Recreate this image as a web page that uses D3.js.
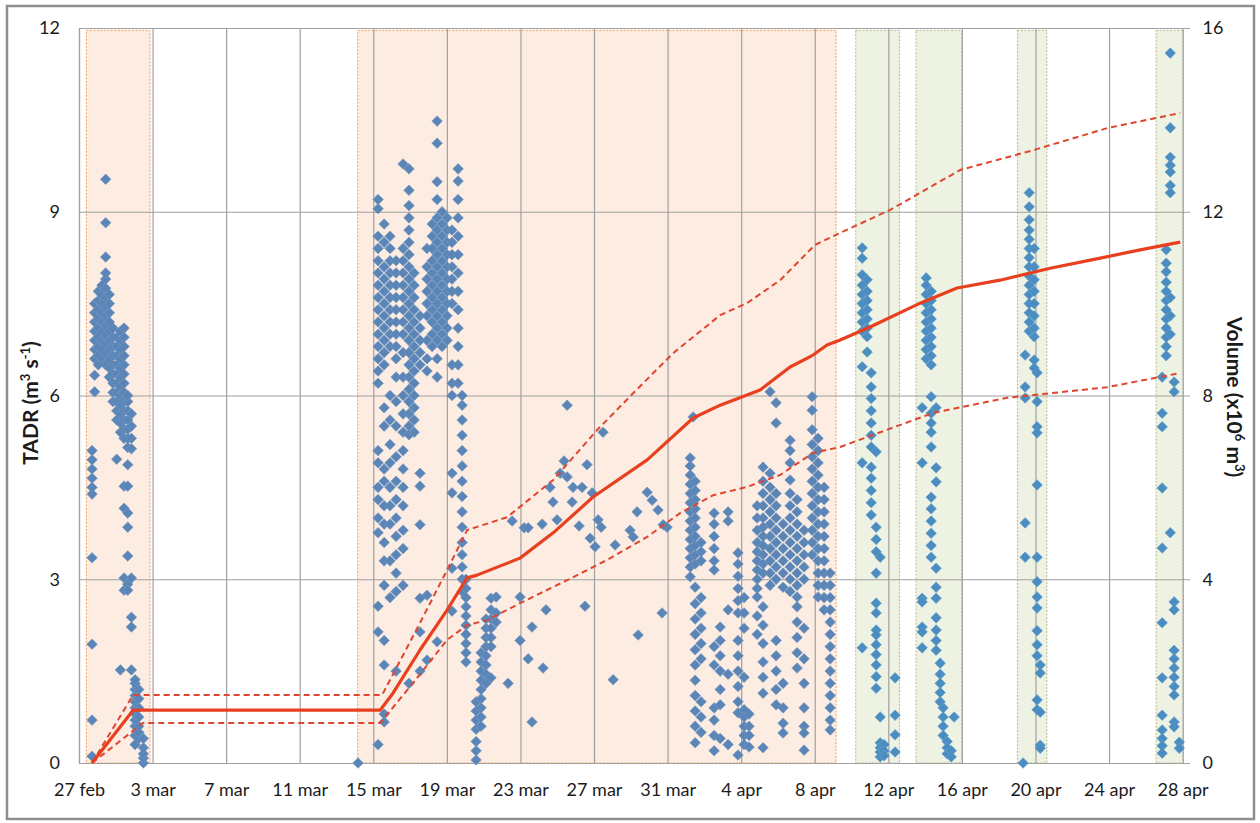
<!DOCTYPE html>
<html>
<head>
<meta charset="utf-8">
<script src="https://cdn.jsdelivr.net/npm/d3@7"></script>
<style>
  body { margin: 0; background: #fff; }
</style>
</head>
<body>
<div id="chart"></div>
<script>
// x values are days after 27 feb (2011)
const dayTicks = [0, 4, 8, 12, 16, 20, 24, 28, 32, 36, 40, 44, 48, 52, 56, 60];
const tickLabels = ["27 feb", "3 mar", "7 mar", "11 mar", "15 mar", "19 mar", "23 mar", "27 mar",
  "31 mar", "4 apr", "8 apr", "12 apr", "16 apr", "20 apr", "24 apr", "28 apr"];
const tadrTicks = [0, 3, 6, 9, 12];
const volTicks = [0, 4, 8, 12, 16];

// shaded periods [start day, end day]
const orangeSpans = [[0.40, 3.86], [15.15, 41.16]];
const greenSpans = [[42.23, 44.61], [45.51, 48.0], [51.02, 52.62], [58.56, 60.05]];

// cumulative volume (x10^6 m3) and its bounds
const volume = [[0.71, 0], [2.94, 1.15], [16.37, 1.15], [17.07, 1.52], [18.54, 2.46], [20.01, 3.33],
  [21.10, 4.03], [21.64, 4.09], [23.98, 4.46], [25.78, 5.01], [27.95, 5.79], [30.89, 6.60],
  [33.39, 7.51], [34.86, 7.79], [37.03, 8.12], [38.66, 8.62], [39.91, 8.88], [40.67, 9.10],
  [41.38, 9.21], [43.01, 9.49], [45.73, 10.01], [47.74, 10.34], [50.08, 10.51], [52.80, 10.77],
  [55.52, 10.99], [57.69, 11.17], [59.87, 11.34]];
const volumeUpper = [[0.71, 0], [2.94, 1.48], [16.48, 1.48], [18.54, 3.05], [20.01, 4.20],
  [21.10, 5.07], [21.64, 5.14], [23.27, 5.35], [25.78, 6.16], [28.17, 7.25], [30.13, 8.05],
  [32.30, 8.92], [34.86, 9.75], [36.32, 10.01], [38.12, 10.51], [40.02, 11.28], [41.38, 11.54],
  [44.10, 12.04], [47.91, 12.91], [51.88, 13.34], [55.90, 13.82], [59.87, 14.15]];
const volumeLower = [[0.71, 0], [3.48, 0.87], [16.37, 0.87], [18.16, 1.74], [20.01, 2.68],
  [21.10, 3.00], [22.19, 3.11], [23.98, 3.48], [26.54, 3.98], [28.71, 4.42], [30.89, 4.92],
  [32.68, 5.44], [34.48, 5.83], [36.32, 6.01], [38.12, 6.27], [39.91, 6.75], [41.38, 6.88],
  [43.56, 7.20], [46.44, 7.62], [50.46, 7.95], [55.90, 8.18], [59.87, 8.49]];

// TADR (m3 s-1) readings, grouped as [day, [values]]
const tadrCols = [
  [0.71, [0.11, 0.7, 1.94, 3.35, 4.39, 4.5, 4.65, 4.8, 4.95, 5.1]],
  [0.85, [6.06, 6.33, 6.6, 6.75, 6.9, 7.05, 7.2, 7.35, 7.5]],
  [1.05, [6.5, 6.65, 6.8, 6.95, 7.1, 7.25, 7.4, 7.55, 7.7]],
  [1.25, [6.6, 6.75, 6.9, 7.05, 7.2, 7.35, 7.5, 7.65, 7.8]],
  [1.45, [6.5, 6.7, 6.85, 7.0, 7.15, 7.3, 7.45, 7.6, 7.75, 7.9, 8.0, 8.26, 8.82, 9.53]],
  [1.65, [6.3, 6.45, 6.6, 6.75, 6.9, 7.05, 7.2, 7.35, 7.5, 7.65]],
  [1.85, [5.9, 6.05, 6.2, 6.35, 6.5, 6.65, 6.8, 6.95, 7.1]],
  [2.05, [5.6, 5.75, 5.9, 6.05, 6.2, 6.35, 6.5, 6.65, 6.8, 6.95, 4.96]],
  [2.25, [5.4, 5.55, 5.7, 5.85, 6.0, 6.15, 6.3, 6.45, 6.6, 6.75, 6.9, 7.05, 1.52]],
  [2.45, [5.3, 5.45, 5.6, 5.75, 5.9, 6.05, 6.2, 6.35, 6.5, 6.65, 6.8, 6.95, 7.1, 4.52, 4.16, 3.02, 2.82]],
  [2.65, [5.15, 5.3, 5.45, 5.6, 5.75, 5.9, 6.0, 4.87, 4.52, 4.08, 3.85, 3.38, 2.92, 2.82]],
  [2.85, [5.13, 5.3, 5.5, 5.7, 3.02, 2.38, 2.22, 1.52]],
  [3.05, [0.3, 0.45, 0.6, 0.7, 0.8, 0.9, 1.0, 1.1, 1.2, 1.3, 1.36]],
  [3.25, [0.4, 0.5, 0.6, 0.75, 0.9, 1.05, 1.2]],
  [3.5, [0, 0.08, 0.15, 0.25, 0.4]],
  [15.17, [0]],
  [16.26, [9.2, 9.05, 8.6, 8.4, 8.2, 8.0, 7.8, 7.6, 7.4, 7.2, 7.0, 6.8, 6.6, 6.4, 6.2, 5.1, 4.9, 4.5, 4.3, 4.0, 3.76, 2.56, 2.14, 0.3]],
  [16.59, [8.8, 8.5, 8.1, 7.9, 7.7, 7.5, 7.3, 7.1, 6.9, 6.7, 6.5, 5.8, 5.5, 4.8, 4.6, 4.2, 3.9, 3.6, 3.3, 2.9, 2.0, 1.6, 0.8, 0.67]],
  [16.91, [8.6, 8.4, 8.2, 8.0, 7.8, 7.6, 7.4, 7.2, 7.0, 6.8, 6.0, 5.6, 5.2, 4.9, 4.5, 4.2, 3.9, 3.3, 2.7]],
  [17.24, [8.2, 8.0, 7.8, 7.6, 7.4, 7.2, 7.0, 6.8, 6.6, 6.3, 5.9, 5.5, 5.0, 4.6, 4.3, 4.0, 3.7, 3.4, 3.1, 2.8, 1.5]],
  [17.62, [9.78, 8.4, 8.2, 8.0, 7.8, 7.6, 7.4, 7.2, 7.0, 6.7, 6.3, 6.0, 5.7, 5.4, 5.1, 4.8, 4.5, 4.2, 3.8, 3.5, 2.9]],
  [17.94, [9.7, 9.35, 9.1, 8.9, 8.7, 8.5, 8.3, 8.1, 7.9, 7.7, 7.5, 7.3, 7.1, 6.9, 6.7, 6.5, 6.3, 6.1, 5.9, 5.7, 5.5, 5.36, 1.3]],
  [18.22, [8.0, 7.8, 7.6, 7.4, 7.2, 7.0, 6.8, 6.6, 6.4, 6.2, 6.0, 5.8, 5.6, 5.4]],
  [18.54, [7.3, 7.1, 6.9, 6.7, 6.5, 4.73, 4.52, 3.89, 2.69, 2.14, 1.5]],
  [18.92, [8.4, 8.1, 7.9, 7.7, 7.5, 7.3, 6.9, 6.6, 6.4, 2.74, 1.68]],
  [19.2, [8.8, 8.6, 8.4, 8.2, 8.0, 7.8, 7.6, 7.4, 7.2, 7.0, 6.8]],
  [19.47, [10.48, 10.12, 9.49, 9.2, 8.9, 8.7, 8.5, 8.3, 8.1, 7.9, 7.7, 7.5, 7.3, 7.1, 6.9, 6.6, 6.3, 1.98]],
  [19.74, [9.0, 8.8, 8.6, 8.4, 8.2, 8.0, 7.8, 7.6, 7.4, 7.2, 7.0, 6.8]],
  [20.01, [8.9, 8.7, 8.5, 8.3, 8.1, 7.9, 7.7, 7.5, 7.3, 7.1, 6.9]],
  [20.28, [8.7, 8.5, 8.3, 8.1, 7.9, 7.7, 7.5, 6.5, 6.2, 6.0, 4.73, 4.41, 3.18, 2.48]],
  [20.61, [9.7, 9.5, 9.2, 8.9, 8.6, 8.3, 8.0, 7.7, 7.4, 7.1, 6.8, 6.5, 6.2]],
  [20.83, [6.0, 5.84, 5.6, 5.35, 5.1, 4.85, 4.6, 4.35, 4.1, 3.85, 3.6, 3.4, 3.2, 3.0, 2.8]],
  [21.04, [3.0, 2.85, 2.7, 2.55, 2.4, 2.25, 2.1, 1.95, 1.8, 1.65]],
  [21.59, [0.05, 0.2, 0.35, 0.55, 0.7, 0.85, 1.0]],
  [21.86, [0.6, 0.75, 0.9, 1.05, 1.2, 1.35, 1.5, 1.65, 1.8]],
  [22.13, [1.3, 1.45, 1.6, 1.75, 1.9, 2.05, 2.2, 2.35]],
  [22.4, [1.9, 2.05, 2.2, 2.35, 2.5, 2.69, 1.39]],
  [22.68, [2.3, 2.45, 2.71]],
  [23.33, [1.3]],
  [23.55, [3.95]],
  [23.98, [2.0, 2.71]],
  [24.2, [3.84]],
  [24.42, [3.84, 1.7]],
  [24.63, [2.22, 0.67]],
  [25.18, [3.9]],
  [25.23, [1.55]],
  [25.39, [2.5]],
  [25.61, [4.5]],
  [25.77, [4.26]],
  [25.99, [3.97]],
  [26.16, [4.73]],
  [26.37, [4.93]],
  [26.54, [4.67, 5.84]],
  [26.81, [4.26]],
  [26.86, [4.5]],
  [27.19, [3.87]],
  [27.35, [4.5]],
  [27.51, [2.56]],
  [27.62, [4.87]],
  [27.79, [3.67]],
  [27.9, [4.41]],
  [28.06, [3.53]],
  [28.22, [3.97]],
  [28.39, [3.85]],
  [28.49, [5.4]],
  [29.04, [1.36]],
  [29.15, [3.56]],
  [29.96, [3.8]],
  [30.13, [3.69]],
  [30.34, [4.1]],
  [30.4, [2.09]],
  [30.89, [4.42]],
  [31.16, [4.29]],
  [31.48, [4.13]],
  [31.7, [2.45]],
  [31.76, [3.89]],
  [31.97, [3.85]],
  [33.23, [4.98, 4.85, 4.7, 4.55, 4.4, 4.25, 4.1, 3.95, 3.8, 3.65, 3.5, 3.35, 3.2, 3.04]],
  [33.39, [5.65]],
  [33.5, [4.6, 4.45, 4.3, 4.15, 4.0, 3.85, 3.7, 3.55, 3.4, 3.25, 2.87, 2.6, 2.35, 2.1, 1.85, 1.6, 1.35, 1.1, 0.85, 0.6, 0.33]],
  [33.82, [3.6, 3.45, 3.3, 2.7, 2.45, 2.2, 1.95, 1.7, 1.0, 0.75, 0.5]],
  [34.53, [4.08, 3.9, 3.7, 3.5, 3.3, 3.15, 1.9, 1.6, 0.9, 0.7, 0.45, 0.2]],
  [34.86, [2.22, 2.0, 1.75, 1.5, 1.2, 0.95, 0.4]],
  [35.29, [4.1, 3.95, 2.5, 1.45, 0.3]],
  [35.83, [3.43, 3.25, 3.05, 2.85, 2.65, 2.45, 2.0, 1.75, 1.5, 1.25, 1.0, 0.82, 0.13]],
  [36.16, [2.7, 2.45, 2.2, 1.4, 0.87, 0.75, 0.6, 0.45, 0.3]],
  [36.43, [0.8, 0.6, 0.45, 0.26]],
  [36.87, [4.2, 4.0, 3.8, 3.6, 3.45, 3.3, 3.15, 3.0, 2.85, 2.71, 2.4, 2.1]],
  [37.19, [4.83, 4.6, 4.4, 4.2, 4.0, 3.85, 3.7, 3.55, 3.4, 3.25, 3.1, 2.55, 2.25, 1.95, 1.65, 1.4, 1.14, 0.25]],
  [37.57, [6.06, 4.73, 4.5, 4.3, 4.1, 3.9, 3.7, 3.5, 3.3, 3.1, 2.9]],
  [37.9, [5.88, 5.55, 4.4, 4.2, 4.0, 3.8, 3.6, 3.4, 3.2, 3.0, 2.0, 1.75, 1.5, 1.2, 0.95]],
  [38.28, [3.9, 3.7, 3.5, 3.3, 3.1, 2.87, 1.3, 0.9, 0.65, 0.49]],
  [38.66, [5.27, 5.1, 4.9, 4.62, 4.4, 4.2, 4.0, 3.8, 3.6, 3.4, 3.2, 3.0, 2.8]],
  [39.04, [4.3, 4.1, 3.9, 3.7, 3.5, 3.3, 3.1, 2.9, 2.71, 2.55, 2.3, 2.05, 1.8, 1.55]],
  [39.42, [3.8, 3.6, 3.4, 3.2, 3.0, 2.2, 1.7, 1.3, 0.9, 0.6, 0.49, 0.21]],
  [39.86, [5.98, 5.76, 5.44, 5.2, 5.0, 4.8, 4.6, 4.4, 4.2, 4.0, 3.8, 3.6, 3.4]],
  [40.18, [5.3, 5.1, 4.9, 4.7, 4.5, 4.3, 4.1, 3.9, 3.7, 3.5, 3.3, 3.1, 2.9, 2.71]],
  [40.51, [4.5, 4.3, 4.1, 3.9, 3.7, 3.5, 3.3, 3.1, 2.9, 2.7, 2.5]],
  [40.84, [3.1, 2.9, 2.7, 2.5, 2.3, 2.1, 1.9, 1.7, 1.5, 1.3, 1.1, 0.9, 0.7, 0.54]],
  [42.58, [8.41, 8.24, 7.97, 7.8, 7.65, 7.5, 7.35, 7.2, 7.05, 6.47, 4.9, 1.88]],
  [42.85, [7.89, 7.7, 7.55, 7.4, 7.25, 7.1, 6.96, 6.71]],
  [43.07, [6.37, 6.14, 5.95, 5.75, 5.55, 5.35, 5.16, 4.83, 4.65, 4.45, 4.25, 4.05]],
  [43.34, [5.08, 3.85, 3.65, 3.45, 3.1, 2.61, 2.45, 2.17, 2.09, 1.93, 1.77, 1.6, 1.41, 1.22]],
  [43.56, [3.36, 0.75, 0.33, 0.25, 0.18, 0.1]],
  [43.77, [0.3, 0.2, 0.12]],
  [44.37, [1.39, 0.78, 0.46, 0.18]],
  [45.84, [5.8, 4.9, 2.69, 2.63, 2.22, 2.14, 1.88]],
  [46.06, [7.92, 7.8, 7.65, 7.5, 7.35, 7.2, 7.05, 6.9, 6.75, 6.6]],
  [46.33, [7.7, 7.55, 7.4, 7.25, 7.1, 6.95, 6.8, 6.65, 6.5, 5.98, 5.71, 5.55, 5.4, 5.16, 4.34, 4.15, 3.95, 3.75, 3.55, 3.36]],
  [46.6, [5.8, 4.82, 4.59, 3.18, 2.87, 2.69, 2.37, 2.17, 2.0, 1.84]],
  [46.82, [1.63, 1.45, 1.3, 1.15, 1.0]],
  [46.98, [0.9, 0.75, 0.6, 0.45]],
  [47.2, [0.35, 0.25, 0.15]],
  [47.42, [0.2, 0.1]],
  [47.58, [0.75]],
  [51.33, [0]],
  [51.44, [6.66, 6.14, 5.96, 3.92, 3.36]],
  [51.66, [9.31, 9.08, 8.87, 8.7, 8.55, 8.4, 8.25, 8.1, 7.95, 7.8, 7.65, 7.5, 7.35, 7.2, 7.05]],
  [51.93, [8.4, 8.1, 7.89, 7.7, 7.5, 7.3, 7.1, 6.96, 6.58, 6.45]],
  [52.09, [6.37, 5.9, 5.49, 5.39, 4.54, 3.36, 2.96, 2.71, 2.53, 2.16, 1.93, 1.75, 1.03, 0.87]],
  [52.26, [1.6, 1.47, 0.83, 0.29, 0.24]],
  [58.89, [6.3, 5.71, 5.49, 4.49, 3.51, 2.29, 1.39, 0.78, 0.54, 0.4, 0.28, 0.16]],
  [59.11, [8.38, 8.16, 8.02, 7.85, 7.7, 7.55, 7.4, 7.25, 7.1, 6.95, 6.8, 6.65]],
  [59.33, [11.59, 10.37, 9.89, 9.76, 9.65, 9.43, 9.31, 7.6, 7.3, 7.0, 3.76]],
  [59.54, [6.22, 6.06, 2.63, 2.5, 1.84, 1.7, 1.55, 1.4, 1.25, 1.11, 0.67, 0.59]],
  [59.82, [0.34, 0.24]]
];

const width = 1260, height = 823;
const plotL = 79, plotR = 1182.6, plotT = 28, plotB = 763;
const font = "Lato, 'Open Sans', sans-serif";

const x = d3.scaleLinear().domain([0, 60]).range([plotL, plotR]);
const yL = d3.scaleLinear().domain([0, 12]).range([plotB, plotT]);
const yR = d3.scaleLinear().domain([0, 16]).range([plotB, plotT]);

const svg = d3.select("#chart")
  .append("svg")
  .attr("width", width)
  .attr("height", height)
  .style("font-family", font);

// outer frame
svg.append("rect")
  .attr("x", 7).attr("y", 6)
  .attr("width", 1247).attr("height", 813)
  .attr("fill", "#fff")
  .attr("stroke", "#8e8e8e")
  .attr("stroke-width", 2.5);

// shaded periods
svg.selectAll("rect.orange")
  .data(orangeSpans)
  .enter()
  .append("rect")
  .attr("class", "orange")
  .attr("x", d => x(d[0]))
  .attr("width", d => x(d[1]) - x(d[0]))
  .attr("y", yL(11.96))
  .attr("height", yL(0) - yL(11.96))
  .attr("fill", "#fcece1")
  .attr("stroke", "#f4a05a")
  .attr("stroke-width", 1)
  .attr("stroke-dasharray", "2,1.5");

svg.selectAll("rect.green")
  .data(greenSpans)
  .enter()
  .append("rect")
  .attr("class", "green")
  .attr("x", d => x(d[0]))
  .attr("width", d => x(d[1]) - x(d[0]))
  .attr("y", yL(11.96))
  .attr("height", yL(0) - yL(11.96))
  .attr("fill", "#eef2e3")
  .attr("stroke", "#b7ba8c")
  .attr("stroke-width", 1)
  .attr("stroke-dasharray", "2,1.5");

// axes + gridlines
var xAxis = d3.axisBottom(x)
  .tickValues(dayTicks)
  .tickFormat((d, i) => tickLabels[i])
  .tickSize(-(plotB - plotT))
  .tickSizeOuter(0)
  .tickPadding(20);

svg.append("g")
  .attr("class", "x axis")
  .attr("transform", "translate(0," + plotB + ")")
  .call(xAxis)
  .call(g => g.select(".domain").remove());

var yAxis = d3.axisLeft(yL)
  .tickValues(tadrTicks)
  .tickSize(-(1190 - plotL))
  .tickSizeOuter(0)
  .tickPadding(19);

svg.append("g")
  .attr("class", "y axis")
  .attr("transform", "translate(" + plotL + ",0)")
  .call(yAxis);

var yAxis2 = d3.axisRight(yR)
  .tickValues(volTicks)
  .tickSize(0)
  .tickPadding(20);

svg.append("g")
  .attr("class", "y2 axis")
  .attr("transform", "translate(" + plotR + ",0)")
  .call(yAxis2)
  .call(g => g.select(".domain").remove());

svg.selectAll(".axis line, .axis path")
  .style("stroke", "#a0a0a0")
  .style("stroke-width", 1.2);

svg.selectAll(".axis text")
  .style("font-size", "18px")
  .style("font-family", font)
  .style("fill", "#1b1b1b");

// TADR points
const points = tadrCols.flatMap(c => c[1].map(v => ({ d: c[0], v: v })));
const diamond = d3.symbol().type(d3.symbolSquare).size(56);
const inGreen = d => greenSpans.some(s => d.d >= s[0] && d.d <= s[1]);

svg.append("g")
  .selectAll("path")
  .data(points)
  .enter()
  .append("path")
  .attr("d", diamond)
  .attr("transform", d => "translate(" + x(d.d) + "," + yL(d.v) + ") rotate(45)")
  .attr("fill", d => inGreen(d) ? "#4b8dc0" : "#5a85b6")
  .attr("stroke", d => inGreen(d) ? "#62a0cc" : "#7198c3")
  .attr("stroke-width", 0.6);

// volume lines
const line = d3.line().x(d => x(d[0])).y(d => yR(d[1]));

[volumeUpper, volumeLower].forEach(s => {
  svg.append("path")
    .datum(s)
    .attr("d", line)
    .attr("fill", "none")
    .attr("stroke", "#e0452f")
    .attr("stroke-width", 2)
    .attr("stroke-dasharray", "6,4");
});

svg.append("path")
  .datum(volume)
  .attr("d", line)
  .attr("fill", "none")
  .attr("stroke", "#e8401f")
  .attr("stroke-width", 3.2)
  .attr("stroke-linejoin", "round");

// axis titles
const t1 = svg.append("text")
  .attr("transform", "translate(38," + 403 + ") rotate(-90)")
  .attr("text-anchor", "middle")
  .style("font-size", "21px")
  .style("font-weight", "bold")
  .style("fill", "#1b1b1b");
t1.append("tspan").text("TADR (m");
t1.append("tspan").attr("dy", -8).style("font-size", "13px").text("3");
t1.append("tspan").attr("dy", 8).text(" s");
t1.append("tspan").attr("dy", -8).style("font-size", "13px").text("-1");
t1.append("tspan").attr("dy", 8).text(")");

const t2 = svg.append("text")
  .attr("transform", "translate(1227," + 397 + ") rotate(90)")
  .attr("text-anchor", "middle")
  .style("font-size", "21px")
  .style("font-weight", "bold")
  .style("fill", "#1b1b1b");
t2.append("tspan").text("Volume (x10");
t2.append("tspan").attr("dy", -8).style("font-size", "13px").text("6");
t2.append("tspan").attr("dy", 8).text(" m");
t2.append("tspan").attr("dy", -8).style("font-size", "13px").text("3");
t2.append("tspan").attr("dy", 8).text(")");
</script>
</body>
</html>
